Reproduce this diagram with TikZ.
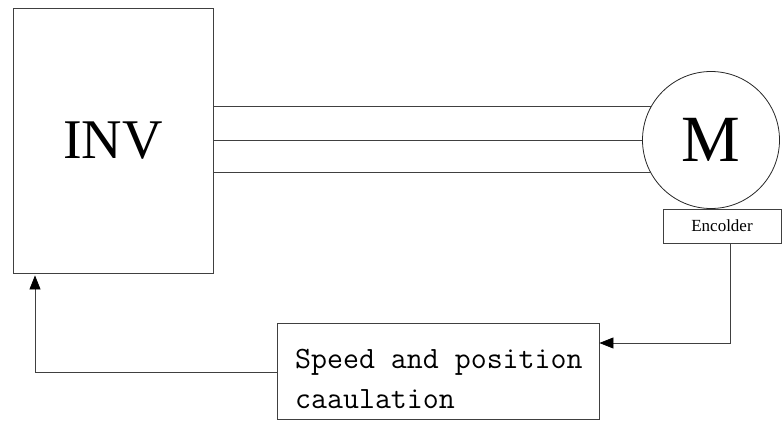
\documentclass[tikz,border=0pt]{standalone}
\usepackage{fontspec}
\setmainfont{Liberation Serif}
\usetikzlibrary{arrows.meta}
\begin{document}
\begin{tikzpicture}[x=1pt,y=-1pt,
  wire/.style={draw=black!75,line width=0.8pt},
  blockbox/.style={draw=black!75,line width=0.8pt,rectangle,inner sep=0pt},
  tip/.style={-{Triangle[length=14pt,width=11pt,color=black]}}]
\useasboundingbox (0,0) rectangle (782,421);
% inverter block
\node[blockbox,minimum width=200pt,minimum height=265pt,font=\fontsize{56}{60}\selectfont] (inv) at (113,140.5) {INV};
% motor
\node[draw=black!85,line width=0.8pt,circle,minimum size=137pt,inner sep=0pt,font=\fontsize{66}{70}\selectfont] (m) at (711,140) {M};
% three phase lines
\draw[wire] (inv.east |- m.151.9) -- (m.151.9);
\draw[wire] (inv.east |- m.west) -- (m.west);
\draw[wire] (inv.east |- m.208.1) -- (m.208.1);
% encoder
\node[blockbox,minimum width=118pt,minimum height=34pt,font=\fontsize{17}{20}\selectfont] (enc) at (722,226) {Encolder};
% speed / position computation block
\node[blockbox,minimum width=322pt,minimum height=96pt] (spd) at (438,371) {};
\node[anchor=west,align=left,inner sep=0pt,font=\ttfamily\fontsize{31}{40}\selectfont] (spdtxt) at (295,379) {Speed and position\\caaulation};
% feedback paths
\coordinate (c1) at (730,343);
\coordinate (c2) at (35,372);
\draw[wire,tip] (enc.south -| c1) |- (spd.east |- c1);
\draw[wire,tip,shorten >=2pt] (spd.west |- c2) -| (inv.south -| c2);
\end{tikzpicture}
\end{document}
